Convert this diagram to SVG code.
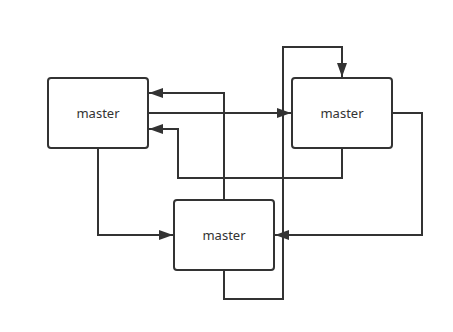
<svg xmlns="http://www.w3.org/2000/svg" width="453" height="332" viewBox="0 0 453 332">
<style>
.node rect{fill:#fff;stroke:#333;stroke-width:2}
.node text{font-family:"Noto Sans","Open Sans",sans-serif;font-size:13px;fill:#333;text-anchor:middle;dominant-baseline:central}
.edge{fill:none;stroke:#333;stroke-width:2}
</style>
<defs>
<marker id="arr" viewBox="0 0 14 10" refX="14" refY="5" markerWidth="14" markerHeight="10" markerUnits="userSpaceOnUse" orient="auto">
<path d="M0,0 L14,5 L0,10 Z" fill="#333"/>
</marker>
</defs>
<rect width="453" height="332" fill="#fff"/>
<g id="connectors">
<path class="edge" d="M224,200 V93 H149" marker-end="url(#arr)"/>
<path class="edge" d="M148,113 H291" marker-end="url(#arr)"/>
<path class="edge" d="M342,148 V178 H178 V129 H149" marker-end="url(#arr)"/>
<path class="edge" d="M98,148 V235 H173" marker-end="url(#arr)"/>
<path class="edge" d="M392,113 H422 V235 H275" marker-end="url(#arr)"/>
<path class="edge" d="M224,270 V299 H283 V47 H342 V77" marker-end="url(#arr)"/>
</g>
<g id="nodeA" class="node"><rect x="48" y="78" width="100" height="70" rx="3"/><text x="98" y="113">master</text></g>
<g id="nodeB" class="node"><rect x="292" y="78" width="100" height="70" rx="3"/><text x="342" y="113">master</text></g>
<g id="nodeC" class="node"><rect x="174" y="200" width="100" height="70" rx="3"/><text x="224" y="235">master</text></g>
</svg>
